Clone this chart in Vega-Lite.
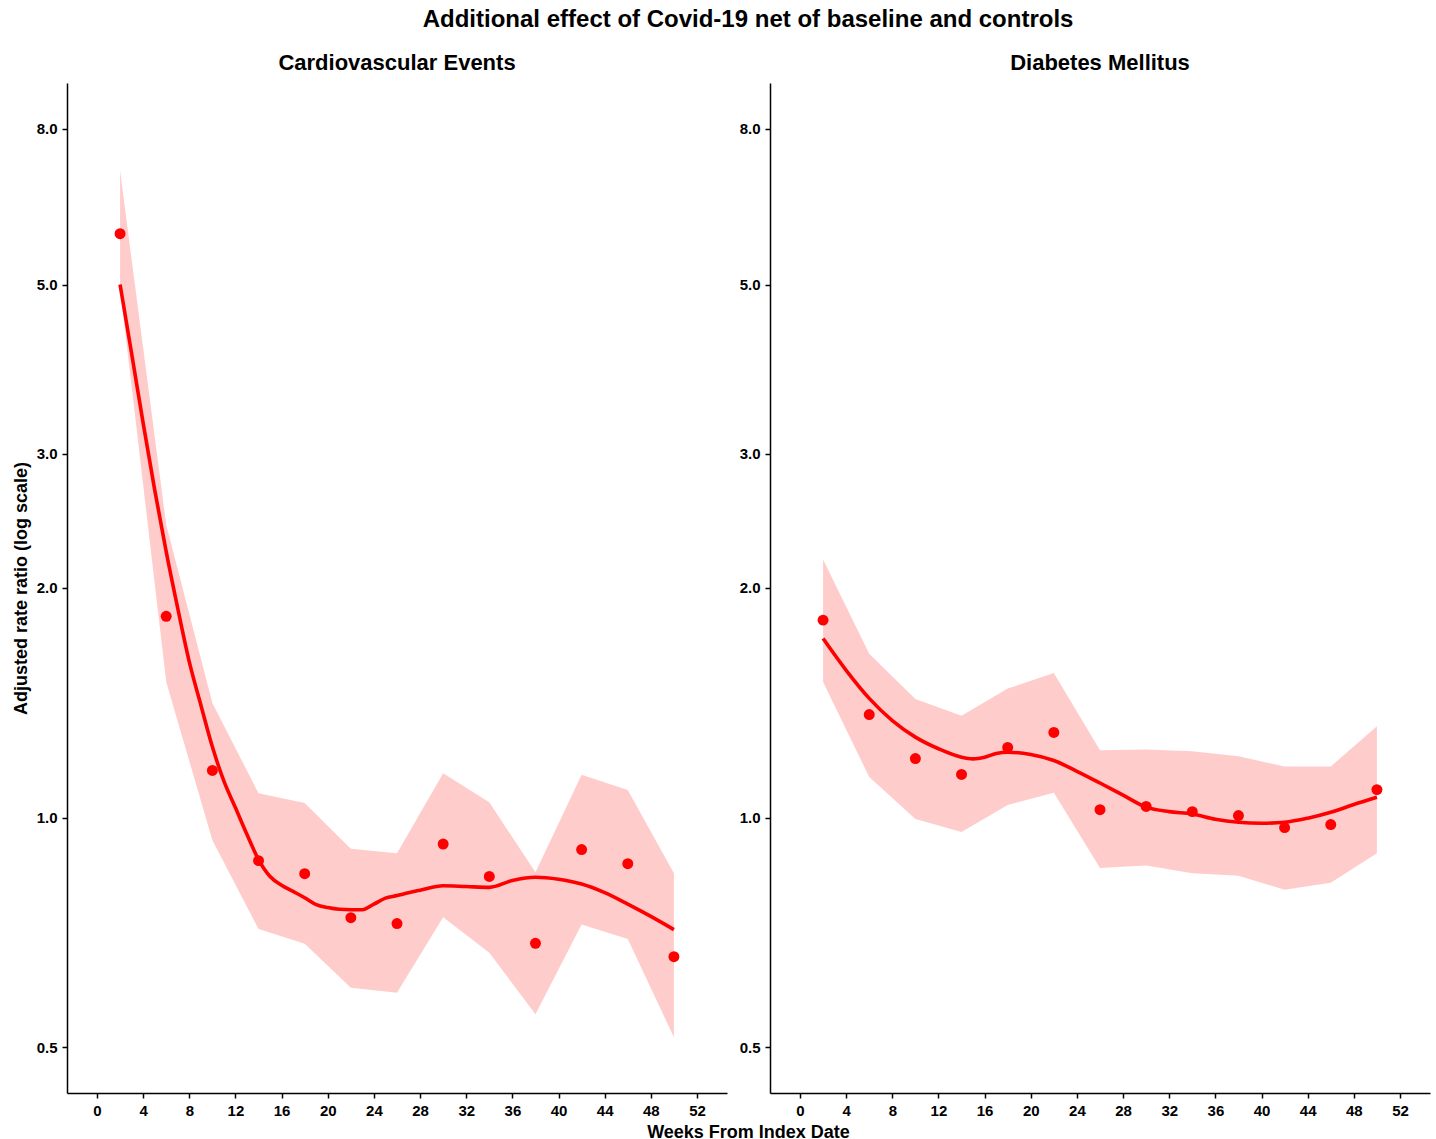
{
  "$schema": "https://vega.github.io/schema/vega-lite/v6.json",
  "padding": {"left": 12, "top": 8, "right": 6, "bottom": 4},
  "title": {"text": "Additional effect of Covid-19 net of baseline and controls", "font": "Liberation Sans", "fontSize": 24, "fontWeight": "bold", "color": "black", "anchor": "middle", "offset": 20, "dx": 27},
  "datasets": {
    "pts": [
      {"panel": "CV", "week": 2, "rr": 5.83}, {"panel": "CV", "week": 6, "rr": 1.836}, {"panel": "CV", "week": 10, "rr": 1.153},
      {"panel": "CV", "week": 14, "rr": 0.878}, {"panel": "CV", "week": 18, "rr": 0.844}, {"panel": "CV", "week": 22, "rr": 0.739},
      {"panel": "CV", "week": 26, "rr": 0.726}, {"panel": "CV", "week": 30, "rr": 0.923}, {"panel": "CV", "week": 34, "rr": 0.837},
      {"panel": "CV", "week": 38, "rr": 0.684}, {"panel": "CV", "week": 42, "rr": 0.908}, {"panel": "CV", "week": 46, "rr": 0.87},
      {"panel": "CV", "week": 50, "rr": 0.657},
      {"panel": "DM", "week": 2, "rr": 1.815}, {"panel": "DM", "week": 6, "rr": 1.365}, {"panel": "DM", "week": 10, "rr": 1.195},
      {"panel": "DM", "week": 14, "rr": 1.139}, {"panel": "DM", "week": 18, "rr": 1.236}, {"panel": "DM", "week": 22, "rr": 1.293},
      {"panel": "DM", "week": 26, "rr": 1.024}, {"panel": "DM", "week": 30, "rr": 1.034}, {"panel": "DM", "week": 34, "rr": 1.018},
      {"panel": "DM", "week": 38, "rr": 1.006}, {"panel": "DM", "week": 42, "rr": 0.97}, {"panel": "DM", "week": 46, "rr": 0.979},
      {"panel": "DM", "week": 50, "rr": 1.088}
    ],
    "band": [
      {"panel": "CV", "week": 2, "lo": 4.95, "hi": 7.05}, {"panel": "CV", "week": 6, "lo": 1.506, "hi": 2.42},
      {"panel": "CV", "week": 10, "lo": 0.934, "hi": 1.413}, {"panel": "CV", "week": 14, "lo": 0.714, "hi": 1.076},
      {"panel": "CV", "week": 18, "lo": 0.683, "hi": 1.045}, {"panel": "CV", "week": 22, "lo": 0.598, "hi": 0.91},
      {"panel": "CV", "week": 26, "lo": 0.589, "hi": 0.898}, {"panel": "CV", "week": 30, "lo": 0.74, "hi": 1.143},
      {"panel": "CV", "week": 34, "lo": 0.665, "hi": 1.047}, {"panel": "CV", "week": 38, "lo": 0.552, "hi": 0.848},
      {"panel": "CV", "week": 42, "lo": 0.724, "hi": 1.138}, {"panel": "CV", "week": 46, "lo": 0.693, "hi": 1.087},
      {"panel": "CV", "week": 50, "lo": 0.515, "hi": 0.845},
      {"panel": "DM", "week": 2, "lo": 1.506, "hi": 2.18}, {"panel": "DM", "week": 6, "lo": 1.13, "hi": 1.64},
      {"panel": "DM", "week": 10, "lo": 0.996, "hi": 1.43}, {"panel": "DM", "week": 14, "lo": 0.957, "hi": 1.36},
      {"panel": "DM", "week": 18, "lo": 1.039, "hi": 1.476}, {"panel": "DM", "week": 22, "lo": 1.078, "hi": 1.547},
      {"panel": "DM", "week": 26, "lo": 0.859, "hi": 1.225}, {"panel": "DM", "week": 30, "lo": 0.865, "hi": 1.228},
      {"panel": "DM", "week": 34, "lo": 0.845, "hi": 1.222}, {"panel": "DM", "week": 38, "lo": 0.839, "hi": 1.203},
      {"panel": "DM", "week": 42, "lo": 0.804, "hi": 1.167}, {"panel": "DM", "week": 46, "lo": 0.821, "hi": 1.167},
      {"panel": "DM", "week": 50, "lo": 0.898, "hi": 1.317}
    ],
    "smooth": [
      {"panel": "CV", "week": 2, "fit": 5.0}, {"panel": "CV", "week": 3, "fit": 4.06}, {"panel": "CV", "week": 4, "fit": 3.29},
      {"panel": "CV", "week": 5, "fit": 2.69}, {"panel": "CV", "week": 6, "fit": 2.23}, {"panel": "CV", "week": 7, "fit": 1.88},
      {"panel": "CV", "week": 8, "fit": 1.6}, {"panel": "CV", "week": 9, "fit": 1.405}, {"panel": "CV", "week": 10, "fit": 1.238},
      {"panel": "CV", "week": 11, "fit": 1.116}, {"panel": "CV", "week": 12, "fit": 1.03}, {"panel": "CV", "week": 13, "fit": 0.95},
      {"panel": "CV", "week": 14, "fit": 0.881}, {"panel": "CV", "week": 15, "fit": 0.837}, {"panel": "CV", "week": 16, "fit": 0.815},
      {"panel": "CV", "week": 17, "fit": 0.8}, {"panel": "CV", "week": 18, "fit": 0.785}, {"panel": "CV", "week": 19, "fit": 0.769},
      {"panel": "CV", "week": 20, "fit": 0.762}, {"panel": "CV", "week": 21, "fit": 0.758}, {"panel": "CV", "week": 22, "fit": 0.757},
      {"panel": "CV", "week": 23, "fit": 0.757}, {"panel": "CV", "week": 24, "fit": 0.77}, {"panel": "CV", "week": 25, "fit": 0.784},
      {"panel": "CV", "week": 26, "fit": 0.79}, {"panel": "CV", "week": 27, "fit": 0.797}, {"panel": "CV", "week": 28, "fit": 0.803},
      {"panel": "CV", "week": 30, "fit": 0.814}, {"panel": "CV", "week": 32, "fit": 0.812}, {"panel": "CV", "week": 34, "fit": 0.81},
      {"panel": "CV", "week": 36, "fit": 0.827}, {"panel": "CV", "week": 38, "fit": 0.835}, {"panel": "CV", "week": 40, "fit": 0.83},
      {"panel": "CV", "week": 42, "fit": 0.818}, {"panel": "CV", "week": 44, "fit": 0.797}, {"panel": "CV", "week": 46, "fit": 0.77},
      {"panel": "CV", "week": 48, "fit": 0.742}, {"panel": "CV", "week": 50, "fit": 0.713},
      {"panel": "DM", "week": 2, "fit": 1.717}, {"panel": "DM", "week": 4, "fit": 1.56}, {"panel": "DM", "week": 6, "fit": 1.433},
      {"panel": "DM", "week": 8, "fit": 1.34}, {"panel": "DM", "week": 10, "fit": 1.275}, {"panel": "DM", "week": 12, "fit": 1.231},
      {"panel": "DM", "week": 14, "fit": 1.2}, {"panel": "DM", "week": 15, "fit": 1.194}, {"panel": "DM", "week": 16, "fit": 1.2},
      {"panel": "DM", "week": 17, "fit": 1.213}, {"panel": "DM", "week": 18, "fit": 1.218}, {"panel": "DM", "week": 20, "fit": 1.21},
      {"panel": "DM", "week": 22, "fit": 1.188}, {"panel": "DM", "week": 24, "fit": 1.15}, {"panel": "DM", "week": 26, "fit": 1.11},
      {"panel": "DM", "week": 28, "fit": 1.07}, {"panel": "DM", "week": 30, "fit": 1.032}, {"panel": "DM", "week": 32, "fit": 1.018},
      {"panel": "DM", "week": 34, "fit": 1.011}, {"panel": "DM", "week": 36, "fit": 0.995}, {"panel": "DM", "week": 38, "fit": 0.986},
      {"panel": "DM", "week": 40, "fit": 0.983}, {"panel": "DM", "week": 42, "fit": 0.986}, {"panel": "DM", "week": 44, "fit": 0.998},
      {"panel": "DM", "week": 46, "fit": 1.016}, {"panel": "DM", "week": 48, "fit": 1.04}, {"panel": "DM", "week": 50, "fit": 1.063}
    ]
  },
  "spacing": 43,
  "bounds": "flush",
  "hconcat": [
    {
      "width": 660, "height": 1010,
      "title": {"text": "Cardiovascular Events", "font": "Liberation Sans", "fontSize": 22, "fontWeight": "bold", "color": "black", "offset": 8},
      "layer": [
        {
          "data": {"name": "band"}, "transform": [{"filter": "datum.panel === 'CV'"}],
          "mark": {"type": "area", "color": "red", "opacity": 0.2},
          "encoding": {
            "x": {"field": "week", "type": "quantitative", "scale": {"domain": [-2.6, 54.6], "nice": false, "zero": false},
                  "axis": {"values": [0,4,8,12,16,20,24,28,32,36,40,44,48,52], "title": "Weeks From Index Date", "titleX": 681, "titlePadding": 5}},
            "y": {"field": "lo", "type": "quantitative", "scale": {"type": "log", "domain": [0.4353, 9.189], "nice": false, "zero": false},
                  "axis": {"values": [0.5,1,2,3,5,8], "format": ".1f", "title": "Adjusted rate ratio (log scale)", "titlePadding": 6}},
            "y2": {"field": "hi"}
          }
        },
        {
          "data": {"name": "smooth"}, "transform": [{"filter": "datum.panel === 'CV'"}],
          "mark": {"type": "line", "color": "red", "strokeWidth": 3.6, "interpolate": "monotone"},
          "encoding": {"x": {"field": "week", "type": "quantitative"}, "y": {"field": "fit", "type": "quantitative"}}
        },
        {
          "data": {"name": "pts"}, "transform": [{"filter": "datum.panel === 'CV'"}],
          "mark": {"type": "circle", "color": "red", "opacity": 1, "size": 120},
          "encoding": {"x": {"field": "week", "type": "quantitative"}, "y": {"field": "rr", "type": "quantitative"}}
        },
        {
          "mark": {"type": "rule", "color": "#BEBEBE", "strokeWidth": 1.5},
          "encoding": {"y": {"datum": 1}}
        }
      ]
    },
    {
      "width": 660, "height": 1010,
      "title": {"text": "Diabetes Mellitus", "font": "Liberation Sans", "fontSize": 22, "fontWeight": "bold", "color": "black", "offset": 8},
      "layer": [
        {
          "data": {"name": "band"}, "transform": [{"filter": "datum.panel === 'DM'"}],
          "mark": {"type": "area", "color": "red", "opacity": 0.2},
          "encoding": {
            "x": {"field": "week", "type": "quantitative", "scale": {"domain": [-2.6, 54.6], "nice": false, "zero": false},
                  "axis": {"values": [0,4,8,12,16,20,24,28,32,36,40,44,48,52], "title": null}},
            "y": {"field": "lo", "type": "quantitative", "scale": {"type": "log", "domain": [0.4353, 9.189], "nice": false, "zero": false},
                  "axis": {"values": [0.5,1,2,3,5,8], "format": ".1f", "title": null}},
            "y2": {"field": "hi"}
          }
        },
        {
          "data": {"name": "smooth"}, "transform": [{"filter": "datum.panel === 'DM'"}],
          "mark": {"type": "line", "color": "red", "strokeWidth": 3.6, "interpolate": "monotone"},
          "encoding": {"x": {"field": "week", "type": "quantitative"}, "y": {"field": "fit", "type": "quantitative"}}
        },
        {
          "data": {"name": "pts"}, "transform": [{"filter": "datum.panel === 'DM'"}],
          "mark": {"type": "circle", "color": "red", "opacity": 1, "size": 120},
          "encoding": {"x": {"field": "week", "type": "quantitative"}, "y": {"field": "rr", "type": "quantitative"}}
        },
        {
          "mark": {"type": "rule", "color": "#BEBEBE", "strokeWidth": 1.5},
          "encoding": {"y": {"datum": 1}}
        }
      ]
    }
  ],
  "config": {
    "view": {"stroke": null},
    "axis": {
      "grid": false, "domainColor": "black", "domainWidth": 1.5, "tickColor": "black", "tickWidth": 1.5, "tickSize": 5,
      "labelFont": "Liberation Sans", "labelFontSize": 15, "labelFontWeight": "bold", "labelColor": "black", "labelPadding": 5,
      "titleFont": "Liberation Sans", "titleFontSize": 18, "titleFontWeight": "bold", "titleColor": "black"
    }
  }
}
